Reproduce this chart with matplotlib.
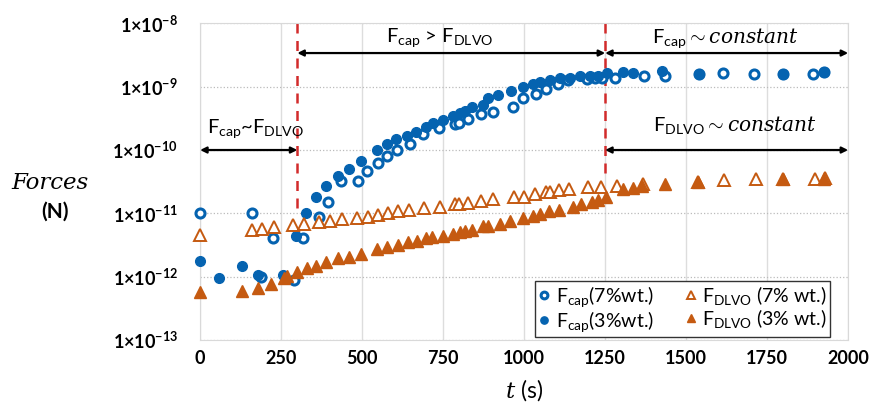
import numpy as np
import matplotlib
matplotlib.use('Agg')
import matplotlib.pyplot as plt
from matplotlib.ticker import FixedLocator, FuncFormatter, NullLocator

plt.rcParams.update({
    'font.family': ['Lato', 'DejaVu Sans'],
    'mathtext.fontset': 'custom',
    'mathtext.rm': 'Lato',
    'mathtext.it': 'DejaVu Serif:italic',
    'mathtext.bf': 'Lato:bold',
})

# =============================================================================
# Data (t in s, forces in N)
# =============================================================================
t_cap7 = [0, 160, 189, 226, 290, 317, 366, 394, 436, 486, 516, 548, 578, 607,
          647, 688, 738, 786, 799, 827, 866, 905, 966, 995, 1036, 1067, 1105,
          1136, 1193, 1218, 1239, 1280, 1371, 1435, 1541, 1615, 1710, 1800,
          1893, 1926]
f_cap7 = [1.0e-11, 1.0e-11, 1.0e-12, 4.1e-12, 8.9e-13, 4.1e-12, 8.9e-12,
          1.5e-11, 3.2e-11, 3.3e-11, 4.7e-11, 6.2e-11, 8.1e-11, 1.0e-10,
          1.23e-10, 1.78e-10, 2.2e-10, 2.57e-10, 2.63e-10, 3.1e-10, 3.7e-10,
          4.0e-10, 4.7e-10, 6.6e-10, 7.6e-10, 9.1e-10, 1.12e-9, 1.29e-9,
          1.32e-9, 1.35e-9, 1.38e-9, 1.38e-9, 1.45e-9, 1.48e-9, 1.58e-9,
          1.62e-9, 1.58e-9, 1.58e-9, 1.58e-9, 1.70e-9]

t_cap3 = [0, 57, 129, 178, 255, 295, 328, 358, 389, 425, 458, 497, 547, 577,
          606, 637, 667, 698, 719, 750, 779, 801, 817, 838, 873, 889, 920, 958,
          997, 1028, 1049, 1079, 1110, 1141, 1172, 1203, 1229, 1255, 1306,
          1337, 1425, 1541, 1800, 1926]
f_cap3 = [1.74e-12, 9.5e-13, 1.45e-12, 1.05e-12, 1.07e-12, 4.4e-12, 1.0e-11,
          1.78e-11, 2.7e-11, 3.9e-11, 5.1e-11, 6.6e-11, 1.0e-10, 1.23e-10,
          1.48e-10, 1.66e-10, 1.95e-10, 2.34e-10, 2.7e-10, 2.95e-10, 3.5e-10,
          3.8e-10, 4.2e-10, 4.7e-10, 5.1e-10, 6.6e-10, 7.4e-10, 8.5e-10,
          1.0e-9, 1.10e-9, 1.20e-9, 1.29e-9, 1.35e-9, 1.38e-9, 1.45e-9,
          1.48e-9, 1.48e-9, 1.62e-9, 1.70e-9, 1.62e-9, 1.78e-9, 1.58e-9,
          1.58e-9, 1.70e-9]

t_dlvo7 = [0, 160, 190, 227, 288, 320, 367, 400, 439, 485, 518, 549, 580, 611,
           646, 690, 740, 786, 799, 827, 866, 904, 969, 1000, 1035, 1069, 1079,
           1108, 1139, 1198, 1236, 1286, 1368, 1538, 1617, 1716, 1800, 1898,
           1929]
f_dlvo7 = [4.6e-12, 5.5e-12, 5.6e-12, 6.0e-12, 6.5e-12, 6.9e-12, 7.4e-12,
           7.6e-12, 8.1e-12, 8.5e-12, 8.9e-12, 9.3e-12, 1.0e-11, 1.1e-11,
           1.12e-11, 1.2e-11, 1.26e-11, 1.41e-11, 1.41e-11, 1.48e-11, 1.58e-11,
           1.66e-11, 1.78e-11, 1.82e-11, 2.0e-11, 2.14e-11, 2.14e-11, 2.34e-11,
           2.4e-11, 2.57e-11, 2.63e-11, 2.75e-11, 2.95e-11, 3.16e-11, 3.4e-11,
           3.47e-11, 3.47e-11, 3.55e-11, 3.6e-11]

t_dlvo3 = [0, 129, 178, 219, 260, 269, 299, 329, 358, 389, 427, 458, 497, 547,
           578, 611, 642, 669, 698, 717, 750, 781, 801, 817, 838, 873, 889, 925,
           956, 997, 1026, 1049, 1077, 1108, 1150, 1177, 1208, 1229, 1254,
           1306, 1337, 1363, 1435, 1538, 1800, 1925]
f_dlvo3 = [5.8e-13, 5.9e-13, 6.6e-13, 7.8e-13, 9.5e-13, 1.02e-12, 1.17e-12,
           1.38e-12, 1.48e-12, 1.7e-12, 1.95e-12, 2.04e-12, 2.3e-12, 2.7e-12,
           2.9e-12, 3.16e-12, 3.5e-12, 3.7e-12, 4.1e-12, 4.2e-12, 4.4e-12,
           4.8e-12, 5.0e-12, 5.2e-12, 5.5e-12, 6.2e-12, 6.3e-12, 6.9e-12,
           7.6e-12, 8.3e-12, 9.1e-12, 9.8e-12, 1.07e-11, 1.12e-11, 1.26e-11,
           1.38e-11, 1.5e-11, 1.6e-11, 1.8e-11, 2.4e-11, 2.5e-11, 2.75e-11,
           2.9e-11, 3.16e-11, 3.47e-11, 3.55e-11]

x_ticks = [0, 250, 500, 750, 1000, 1250, 1500, 1750, 2000]
y_ticks = [1e-13, 1e-12, 1e-11, 1e-10, 1e-9, 1e-8]

# regime boundaries (s)
T_SPLIT1 = 300
T_SPLIT2 = 1250

BLUE = '#0563B0'
ORANGE = '#C55A11'
RED = '#D22B2B'

# =============================================================================
# Figure
# =============================================================================
fig = plt.figure(figsize=(8.69, 4.16), dpi=100)
ax = fig.add_axes([0.2303, 0.1827, 0.7457, 0.7611])
ax.set_yscale('log')
ax.set_xlim(0, 2000)
ax.set_ylim(1e-13, 1e-8)

ax.plot(t_cap7, f_cap7, 'o', ms=6.5, mfc='white', mec=BLUE, mew=2.2,
        ls='none', label=r'$\mathrm{F_{cap}}$(7%wt.)', zorder=3, clip_on=False)
ax.plot(t_cap3, f_cap3, 'o', ms=7, color=BLUE, ls='none',
        label=r'$\mathrm{F_{cap}}$(3%wt.)', zorder=3, clip_on=False)
ax.plot(t_dlvo7, f_dlvo7, '^', ms=8, mfc='white', mec=ORANGE, mew=1.4,
        ls='none', label=r'$\mathrm{F_{DLVO}}$ (7% wt.)', zorder=3, clip_on=False)
ax.plot(t_dlvo3, f_dlvo3, '^', ms=8, color=ORANGE, ls='none',
        label=r'$\mathrm{F_{DLVO}}$ (3% wt.)', zorder=3, clip_on=False)

# grid / axes styling
ax.xaxis.set_major_locator(FixedLocator(x_ticks))
ax.yaxis.set_major_locator(FixedLocator(y_ticks))
ax.yaxis.set_minor_locator(NullLocator())
ax.yaxis.set_major_formatter(FuncFormatter(
    lambda v, p: r'$\mathbf{1{\times}10^{%d}}$' % int(round(np.log10(v)))))
ax.set_xticklabels([str(v) for v in x_ticks], fontweight='bold', fontsize=13)
ax.tick_params(axis='both', length=0, labelsize=13)
ax.tick_params(axis='y', pad=16)
ax.tick_params(axis='x', pad=7)
ax.grid(axis='x', color='#DDDDDD', lw=1.0)
ax.grid(axis='y', color='#BBBBBB', lw=0.9, ls=':')
ax.set_axisbelow(True)
for sp in ax.spines.values():
    sp.set_color('#D9D9D9')

# regime boundaries
ax.plot([T_SPLIT1, T_SPLIT1], [1e-8, 1e-11], color=RED, lw=1.8, ls=(0, (4, 3)), zorder=2)
ax.plot([T_SPLIT2, T_SPLIT2], [1e-8, 3.5e-11], color=RED, lw=1.8, ls=(0, (4, 3)), zorder=2)

arrow = dict(arrowstyle='<|-|>', color='black', lw=1.6, mutation_scale=9,
             shrinkA=0, shrinkB=0)
ax.annotate('', xy=(T_SPLIT1, 1e-10), xytext=(0, 1e-10), arrowprops=arrow)
ax.annotate('', xy=(T_SPLIT2, 3.4e-9), xytext=(T_SPLIT1, 3.4e-9), arrowprops=arrow)
ax.annotate('', xy=(2000, 3.4e-9), xytext=(T_SPLIT2, 3.4e-9), arrowprops=arrow,
            annotation_clip=False)
ax.annotate('', xy=(2000, 1e-10), xytext=(T_SPLIT2, 1e-10), arrowprops=arrow,
            annotation_clip=False)

ax.text(170, 2.2e-10, r'$\mathrm{F_{cap}}$~$\mathrm{F_{DLVO}}$', fontsize=14.5,
        ha='center', va='center')
ax.text(740, 5.9e-9, r'$\mathrm{F_{cap}}$ > $\mathrm{F_{DLVO}}$', fontsize=14.5,
        ha='center', va='center')
ax.text(1620, 5.9e-9, r'$\mathrm{F_{cap}}\sim\mathit{constant}$', fontsize=14.5,
        ha='center', va='center')
ax.text(1650, 2.5e-10, r'$\mathrm{F_{DLVO}}\sim\mathit{constant}$', fontsize=14.5,
        ha='center', va='center')

leg = ax.legend(loc='lower right', bbox_to_anchor=(0.972, 0.01), ncol=2,
                fontsize=14, markerscale=0.75, handlelength=0.6,
                handletextpad=0.3, columnspacing=1.6, borderpad=0.15,
                labelspacing=0.0, borderaxespad=0, fancybox=False,
                framealpha=1)
leg.get_frame().set_edgecolor('#333333')
leg.get_frame().set_linewidth(1.0)

# axis labels
fig.text(50 / 869, 1 - 183 / 416, 'Forces', family='DejaVu Serif',
         style='italic', fontsize=16.5, ha='center', va='center')
fig.text(55 / 869, 1 - 212 / 416, '(N)', fontsize=15, fontweight='bold',
         ha='center', va='center')
fig.text(524 / 869, 1 - 390 / 416, r'$t$ (s)', fontsize=16.5,
         ha='center', va='center')

fig.savefig('out.png', dpi=100)
